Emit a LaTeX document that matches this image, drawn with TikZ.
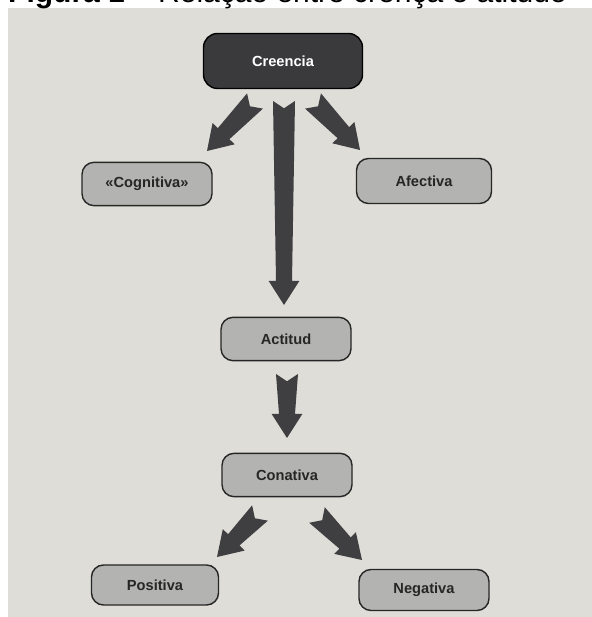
\documentclass[tikz,border=0pt]{standalone}
\usepackage{fontspec}
\setmainfont{Liberation Sans}
\usetikzlibrary{calc}
\usetikzlibrary{positioning}

\definecolor{paper}{HTML}{DEDDD8}
\definecolor{boxgray}{HTML}{B3B3B1}
\definecolor{darkbox}{HTML}{3A3A3C}
\definecolor{arrowgray}{HTML}{3F3F42}
\definecolor{inkgray}{HTML}{262626}

\tikzset{
  stage/.style={rectangle, rounded corners=3.6mm, draw=inkgray, line width=1.2pt,
    fill=boxgray, minimum width=39mm, minimum height=13mm, text=inkgray,
    font=\fontsize{12.5}{14}\selectfont\bfseries},
  fatarrow/.style={fill=arrowgray, draw=none, to path={
    ($(\tikztostart)!2.2mm!(\tikztotarget)$)
    -- ($(\tikztostart)!3.3mm!90:(\tikztotarget)$)
    -- ($(\tikztotarget)!7.2mm!(\tikztostart)!2.4mm!90:(\tikztotarget)$)
    -- ($(\tikztotarget)!7.2mm!(\tikztostart)!4.6mm!90:(\tikztotarget)$)
    -- (\tikztotarget)
    -- ($(\tikztotarget)!7.2mm!(\tikztostart)!4.6mm!-90:(\tikztotarget)$)
    -- ($(\tikztotarget)!7.2mm!(\tikztostart)!2.4mm!-90:(\tikztotarget)$)
    -- ($(\tikztostart)!3.3mm!-90:(\tikztotarget)$)
    -- cycle}}
}

\begin{document}
\begin{tikzpicture}[x=3mm,y=3mm]
      \path[use as bounding box, clip] (0,0) rectangle (59.2,61.7);
      \fill[paper] (0.8,0) rectangle (59.2,60.9);
      \node[anchor=base west, inner sep=0, font=\fontsize{25.6}{28}\selectfont] (caption)
        at (0.8,61.45) {\textbf{Figura 1} – Relação entre crença e atitude};

      \begin{scope}[every node/.style={stage}]
        \node[fill=darkbox, draw=black, text=white, minimum width=47.7mm,
          minimum height=16.5mm, rounded corners=4.2mm] (creencia) at (28.3,55.6) {Creencia};
        \node (cognitiva) at (14.7,43.3) {«Cognitiva»};
        \node[minimum width=40.5mm, minimum height=13.5mm] (afectiva) at (42.4,43.6) {Afectiva};
        \node (actitud) at (28.6,27.8) {Actitud};
        \node (conativa) at (28.7,14.2) {Conativa};
        \node[minimum width=38.1mm, minimum height=12mm] (positiva) at (15.5,3.2) {Positiva};
        \node[minimum height=12.3mm] (negativa) at (42.4,2.7) {Negativa};
      \end{scope}

      % tails and tips of the arrows
      \coordinate (cog-t) at (25.5,51.6);
      \coordinate (cog-h) at (20.7,46.6);
      \coordinate (act-t) at (28.4,51.6);
      \coordinate (act-h) at (28.4,31.2);
      \coordinate (afe-t) at (31.3,51.6);
      \coordinate (afe-h) at (36.0,46.7);
      \coordinate (con-t) at (28.7,24.3);
      \coordinate (con-h) at (28.7,17.9);
      \coordinate (pos-t) at (26.0,10.4);
      \coordinate (pos-h) at (21.7,6.0);
      \coordinate (neg-t) at (31.7,10.2);
      \coordinate (neg-h) at (36.2,5.7);

      \begin{scope}[every edge/.style={fatarrow}]
        \path (cog-t) edge (cog-h);
        \path (act-t) edge (act-h);
        \path (afe-t) edge (afe-h);
        \path (con-t) edge (con-h);
        \path (pos-t) edge (pos-h);
        \path (neg-t) edge (neg-h);
      \end{scope}
    \end{tikzpicture}
\end{document}
